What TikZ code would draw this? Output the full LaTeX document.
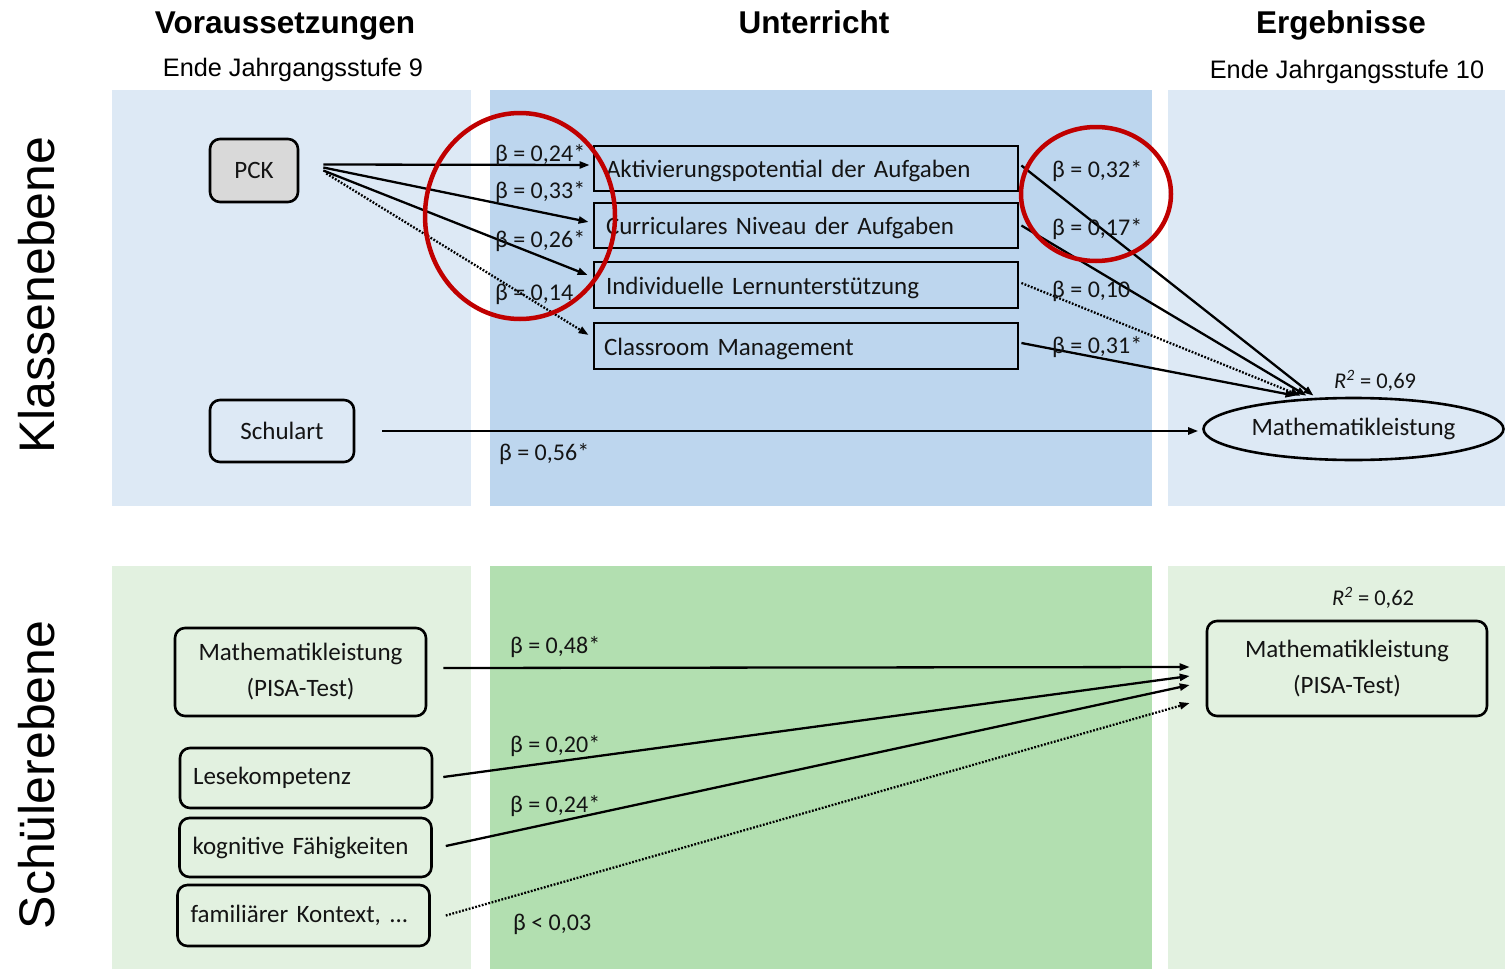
\documentclass[tikz,border=0pt]{standalone}
\usepackage{fontspec}
\setmainfont{Carlito}
\newfontfamily\headfont{Liberation Sans}
\usetikzlibrary{calc,arrows.meta,shapes.geometric}

\definecolor{panelblue}{HTML}{DDE9F5}
\definecolor{midblue}{HTML}{BDD6EE}
\definecolor{panelgreen}{HTML}{E2F1E0}
\definecolor{midgreen}{HTML}{B2DFB0}
\definecolor{markred}{HTML}{C00000}
\definecolor{ink}{HTML}{141414}
\definecolor{pckgray}{HTML}{D9D9D9}

\begin{document}
\begin{tikzpicture}[x=1pt,y=-1pt,
  every node/.style={text=ink},
  rbox/.style={draw=black, line width=2.6pt, rounded corners=10pt,
    font=\fontsize{25}{36}\selectfont, align=center, inner sep=0pt},
  lbox/.style={rbox, align=left, inner xsep=13pt, text width=226pt},
  sbox/.style={draw=black, line width=2.8pt, font=\fontsize{25}{28}\selectfont,
    text width=400pt, inner xsep=12pt, inner ysep=0pt, minimum height=45pt, align=left,
    text height=19pt, text depth=1pt},
  coef/.style={font=\fontsize{24}{26}\selectfont, anchor=base west, inner sep=0pt},
  rsq/.style={font=\fontsize{22.5}{24}\selectfont, anchor=base west, inner sep=0pt},
  head/.style={font=\headfont\bfseries\fontsize{31.5}{34}\selectfont, anchor=base, inner sep=0pt, text=black},
  subhead/.style={font=\headfont\fontsize{25.3}{28}\selectfont, anchor=base, inner sep=0pt, text=black},
  level/.style={font=\headfont\fontsize{50}{52}\selectfont, rotate=90, anchor=base, inner sep=0pt, text=black},
  conn/.style={line width=2.3pt, draw=black, -{Triangle[length=10pt,width=7pt]}},
  weak/.style={conn, dash pattern=on 1.8pt off 1.6pt},
  ring/.style={draw=markred, line width=4.5pt}
]
\useasboundingbox (0,0) rectangle (1505,969);

% background panels
\fill[panelblue] (112,90) rectangle (471,506);
\fill[midblue] (490,90) rectangle (1152,506);
\fill[panelblue] (1168,90) rectangle (1505,506);
\fill[panelgreen] (112,566) rectangle (471,969);
\fill[midgreen] (490,566) rectangle (1152,969);
\fill[panelgreen] (1168,566) rectangle (1505,969);

% column headers
\node[head] at (285,33) {Voraussetzungen};
\node[subhead] at (293,76) {Ende Jahrgangsstufe 9};
\node[head] at (814,33) {Unterricht};
\node[head] at (1341,33) {Ergebnisse};
\node[subhead] at (1347,78) {Ende Jahrgangsstufe 10};

% level labels
\node[level] at (54,295) {Klassenebene};
\node[level] at (54,775) {Schülerebene};

% class level
\node[rbox, fill=pckgray, minimum width=88pt, minimum height=63pt] (PCK) at (254,170.5) {PCK};
\node[rbox, minimum width=144pt, minimum height=62pt] (schulart) at (282,431) {Schulart};

\node[sbox] (akt) at (806,168.5) {Aktivierungspotential der Aufgaben};
\node[sbox] (cur) at (806,225.5) {Curriculares Niveau der Aufgaben};
\node[sbox, minimum height=46pt] (ind) at (806,285) {Individuelle Lernunterstützung};
\node[sbox, minimum height=46pt, inner xsep=10pt, text width=404pt] (cm) at (806,346) {Classroom Management};

\node[draw=black, line width=2.6pt, ellipse, minimum width=300pt, minimum height=62pt,
  inner sep=0pt, font=\fontsize{25}{28}\selectfont] (ml) at (1353.5,429) {Mathematikleistung};

% connector ends
\coordinate (pA) at ($(PCK.east)+(24,-6)$);
\coordinate (pC) at ($(PCK.east)+(24,-3)$);
\coordinate (pI) at ($(PCK.east)+(24,0)$);
\coordinate (pM) at ($(PCK.east)+(27,3)$);
\coordinate (mA) at ($(ml.north)+(-40,-1)$);
\coordinate (mC) at ($(ml.north)+(-47,-1)$);
\coordinate (mI) at ($(ml.north)+(-53,-1)$);
\coordinate (mM) at ($(ml.north)+(-58,-1)$);

\draw[conn] (pA) -- ($(akt.west)+(-3,-3.5)$);
\draw[conn] (pC) -- ($(cur.west)+(-4,-3.5)$);
\draw[conn] (pI) -- ($(ind.west)+(-5,-10)$);
\draw[weak] (pM) -- ($(cm.west)+(-4,-11)$);

\draw[conn] ($(akt.east)+(2,-3)$) -- (mA);
\draw[conn] ($(cur.east)+(2,0)$) -- (mC);
\draw[weak] ($(ind.east)+(2,-2)$) -- (mI);
\draw[conn] ($(cm.east)+(2,-3)$) -- (mM);

\draw[conn] ($(schulart.east)+(27,0)$) -- ($(ml.west)+(-4,2)$);

% class level coefficients
\node[coef] at (495,161) {β = 0,24*};
\node[coef] at (495,198) {β = 0,33*};
\node[coef] at (495,247) {β = 0,26*};
\node[coef] at (495,300) {β = 0,14};
\node[coef] at (1052,177) {β = 0,32*};
\node[coef] at (1052,235) {β = 0,17*};
\node[coef] at (1052,297) {β = 0,10};
\node[coef] at (1052,353) {β = 0,31*};
\node[coef] at (499,460) {β = 0,56*};
\node[rsq] at (1334,388) {\textit{R}\textsuperscript{\textit{2}} = 0,69};

% student level
\node[rbox, minimum width=251pt, minimum height=88pt] (mpisa) at (300.5,672) {Mathematikleistung\\(PISA-Test)};
\node[lbox, minimum height=60pt] (lese) at (306,778) {Lesekompetenz};
\node[lbox, minimum height=59pt] (kog) at (305.5,847.5) {kognitive Fähigkeiten};
\node[lbox, minimum height=61pt] (fam) at (303.5,915.5) {familiärer Kontext, ...};
\node[rbox, minimum width=280pt, minimum height=95pt] (pisa) at (1347,668.5) {Mathematikleistung\\(PISA-Test)};

\draw[conn] ($(mpisa.east)+(16,-4)$) -- ($(pisa.west)+(-16,-1.5)$);
\draw[conn] ($(lese.east)+(10,-1)$) -- ($(pisa.west)+(-16,7.5)$);
\draw[conn] ($(kog.east)+(13,-1.5)$) -- ($(pisa.west)+(-16,16.5)$);
\draw[weak] ($(fam.east)+(15,0)$) -- ($(pisa.west)+(-16,34.5)$);

\node[coef] at (510,653) {β = 0,48*};
\node[coef] at (510,752) {β = 0,20*};
\node[coef] at (510,812) {β = 0,24*};
\node[coef] at (513,930) {β < 0,03};
\node[rsq] at (1332,605) {\textit{R}\textsuperscript{\textit{2}} = 0,62};

% highlight rings
\draw[ring] (520,216) ellipse [x radius=95, y radius=103];
\draw[ring] (1096,194) ellipse [x radius=75, y radius=67];
\end{tikzpicture}
\end{document}
